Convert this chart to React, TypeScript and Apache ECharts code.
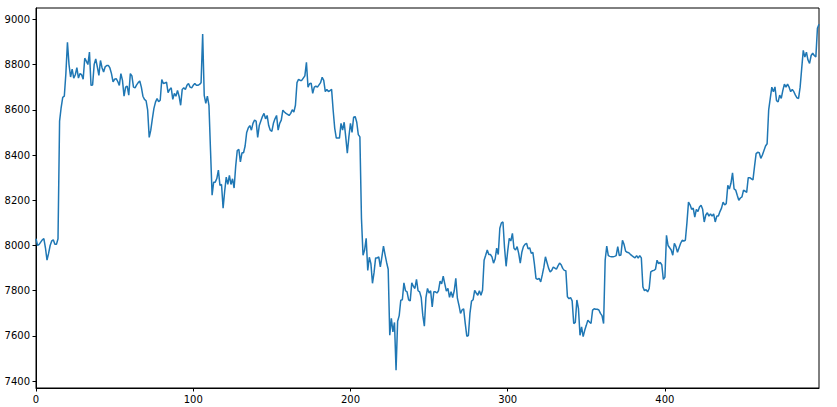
import React, { useEffect, useRef } from 'react';
import * as echarts from 'echarts';

// values, one per index 0..498
const values: number[] = [
  8030, 8000, 8005, 8015, 8025, 8030, 7990, 7935, 7965, 8000,
  8020, 8025, 8005, 8005, 8030, 8550, 8610, 8655, 8660, 8760,
  8898, 8800, 8745, 8780, 8740, 8755, 8786, 8740, 8760, 8755,
  8735, 8828, 8815, 8800, 8855, 8708, 8710, 8800, 8825, 8790,
  8752, 8818, 8786, 8767, 8790, 8796, 8796, 8785, 8760, 8723,
  8735, 8738, 8725, 8708, 8760, 8730, 8660, 8700, 8705, 8665,
  8760, 8750, 8700, 8697, 8710, 8720, 8727, 8700, 8660, 8646,
  8640, 8600, 8478, 8510, 8560, 8606, 8634, 8650, 8636, 8642,
  8734, 8716, 8718, 8722, 8676, 8690, 8697, 8646, 8672, 8660,
  8686, 8660, 8620, 8690, 8697, 8690, 8708, 8716, 8700, 8697,
  8708, 8716, 8708, 8708, 8712, 8720, 8935, 8664, 8628, 8660,
  8620, 8420, 8222, 8280, 8280, 8296, 8333, 8266, 8270, 8165,
  8240, 8302, 8270, 8310, 8270, 8295, 8254, 8350, 8420, 8425,
  8370, 8410, 8410, 8440, 8500, 8520, 8530, 8510, 8540, 8554,
  8550, 8478, 8530, 8550, 8570, 8584, 8560, 8575, 8530, 8510,
  8505, 8540, 8560, 8575, 8510, 8540, 8554, 8598, 8590, 8584,
  8580, 8575, 8584, 8600, 8590, 8620, 8720, 8735, 8730, 8730,
  8740, 8750, 8810, 8700, 8715, 8718, 8673, 8700, 8705, 8700,
  8710, 8720, 8744, 8730, 8680, 8690, 8680, 8685, 8690, 8598,
  8518, 8475, 8475, 8475, 8540, 8510, 8545, 8480, 8408, 8480,
  8540, 8500, 8567, 8570, 8545, 8490, 8480, 8120, 7957, 7980,
  8032, 7890, 7948, 7920, 7833, 7880, 7945, 7945, 7950, 7905,
  7950, 7997, 7960, 7925, 7895, 7603, 7678, 7618, 7660, 7449,
  7665, 7690, 7758, 7760, 7835, 7800, 7795, 7760, 7755, 7835,
  7820, 7810, 7850, 7800, 7795, 7770, 7692, 7643, 7770, 7810,
  7790, 7800, 7728, 7795, 7795, 7790, 7800, 7843, 7830, 7864,
  7830, 7798, 7810, 7771, 7796, 7770, 7800, 7855, 7767, 7736,
  7700, 7715, 7720, 7656, 7599, 7602, 7700, 7754, 7760, 7802,
  7790, 7780, 7800, 7780, 7802, 7935, 7957, 7980, 7960, 7960,
  7950, 7922, 7940, 7988, 7960, 8076, 8100, 8104, 7990, 7908,
  7975, 8032, 8020, 8054, 7988, 7980, 7995, 7965, 7922, 7970,
  7995, 8005, 8010, 7985, 7990, 7965, 7970, 7918, 7855, 7850,
  7855, 7839, 7870, 7904, 7950, 7925, 7900, 7883, 7890, 7905,
  7900, 7895, 7910, 7922, 7915, 7899, 7890, 7888, 7773, 7765,
  7770, 7755, 7655, 7660, 7759, 7722, 7603, 7640, 7597, 7625,
  7647, 7670, 7662, 7655, 7714, 7720, 7718, 7718, 7715, 7700,
  7690, 7655, 7935, 7997, 7955, 7952, 7950, 7950, 7952, 7955,
  7995, 7955, 7958, 8023, 8005, 7975, 7970, 7968, 7961, 7955,
  7950, 7945, 7955, 7944, 7955, 7945, 7817, 7800, 7805, 7795,
  7810, 7883, 7888, 7890, 7895, 7935, 7920, 7925, 7915, 7850,
  7860, 8045, 8000, 7990, 7980, 7957, 8010, 7995, 7970, 7990,
  8010, 8023, 8020, 8023, 8100, 8192, 8180, 8160, 8165, 8126,
  8160, 8150, 8170, 8178, 8160, 8104, 8135, 8145, 8130, 8140,
  8130, 8140, 8104, 8130, 8130, 8150, 8165, 8192, 8180, 8185,
  8266, 8250, 8275, 8321, 8250, 8245, 8222, 8200, 8210, 8215,
  8245, 8240, 8235, 8300, 8300, 8295, 8290, 8350, 8406, 8412,
  8410, 8385, 8400, 8420, 8440, 8450, 8600, 8650, 8700, 8680,
  8701, 8640, 8635, 8665, 8650, 8686, 8713, 8700, 8713, 8700,
  8680, 8690, 8680, 8665, 8653, 8650, 8700, 8783, 8863, 8833,
  8855, 8820, 8805, 8840, 8850, 8840, 8833, 8960, 8978,
];

const xTicks = [0, 100, 200, 300, 400];
const yTicks = [7400, 7600, 7800, 8000, 8200, 8400, 8600, 8800, 9000];

const App: React.FC = () => {
  const chartRef = useRef<HTMLDivElement>(null);

  useEffect(() => {
    if (!chartRef.current) return;
    const chart = echarts.init(chartRef.current, null, { renderer: 'svg' });

    const labelStyle = {
      color: '#000',
      fontSize: 10,
      fontFamily: 'DejaVu Sans',
      formatter: (v: number) => String(v),
    };

    const option: echarts.EChartsOption = {
      animation: false,
      backgroundColor: '#fff',
      grid: {
        left: 36,
        right: 18,
        top: 8,
        bottom: 19,
        show: true,
        borderColor: '#000',
        borderWidth: 1,
        backgroundColor: 'transparent',
      },
      xAxis: {
        type: 'value',
        min: 0,
        max: values.length - 1,
        splitLine: { show: false },
        axisLine: { show: true, onZero: false, lineStyle: { color: '#000', width: 1 } },
        axisTick: { show: true, length: 3.5, lineStyle: { color: '#000' }, customValues: xTicks },
        axisLabel: { ...labelStyle, margin: 6, customValues: xTicks },
      },
      yAxis: {
        type: 'value',
        min: 7370,
        max: 9050,
        splitLine: { show: false },
        axisLine: { show: true, lineStyle: { color: '#000', width: 1 } },
        axisTick: { show: true, length: 3.5, lineStyle: { color: '#000' }, customValues: yTicks },
        axisLabel: { ...labelStyle, margin: 6, customValues: yTicks },
      },
      series: [
        {
          type: 'line',
          data: values.map((v, i) => [i, v]),
          showSymbol: false,
          symbol: 'none',
          lineStyle: { color: '#1f77b4', width: 1.5 },
        },
      ],
    };

    chart.setOption(option);

    return () => {
      chart.dispose();
    };
  }, []);

  return (
    <div
      ref={chartRef}
      style={{ position: 'fixed', left: 0, top: 0, width: 837, height: 407, background: '#fff' }}
    />
  );
};

export default App;
